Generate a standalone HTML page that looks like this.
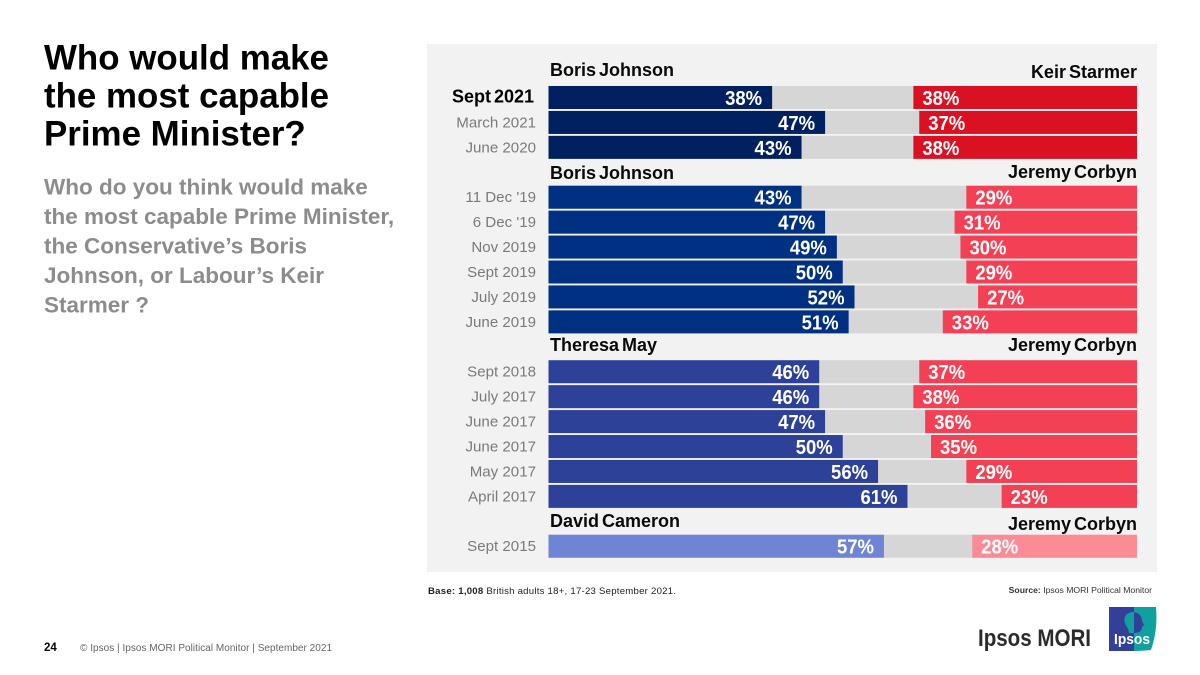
<!DOCTYPE html>
<html lang="en">
<head>
<meta charset="utf-8">
<title>Who would make the most capable Prime Minister?</title>
<style>
html,body{margin:0;padding:0;background:#fff;width:1200px;height:675px;overflow:hidden}
svg{display:block}
text{font-family:"Liberation Sans",Arial,sans-serif}
</style>
</head>
<body>
<svg id="slide" xmlns="http://www.w3.org/2000/svg" width="1200" height="675" viewBox="0 0 1200 675">
  <rect width="1200" height="675" fill="#fff"/>
  <g font-size="34.9" font-weight="700" fill="#000">
    <text x="44" y="69.5">Who would make</text>
    <text x="44" y="107.5">the most capable</text>
    <text x="44" y="145.5">Prime Minister?</text>
  </g>
  <g font-size="22.5" font-weight="700" fill="#8c8c8c">
    <text x="44" y="194.5">Who do you think would make</text>
    <text x="44" y="224">the most capable Prime Minister,</text>
    <text x="44" y="253.5">the Conservative’s Boris</text>
    <text x="44" y="283">Johnson, or Labour’s Keir</text>
    <text x="44" y="312.5">Starmer ?</text>
  </g>
  <rect x="427" y="44" width="730" height="528" fill="#f2f2f2"/>
  <g id="chart"></g>
  <text x="428" y="594" font-size="9.6" fill="#222" textLength="248"><tspan font-weight="700">Base: 1,008</tspan> British adults 18+, 17-23 September 2021.</text>
  <text x="1152" y="593" font-size="8.65" fill="#333" text-anchor="end"><tspan font-weight="700">Source:</tspan> Ipsos MORI Political Monitor</text>
  <text x="44" y="651" font-size="11.5" font-weight="700" fill="#000">24</text>
  <text x="80" y="651" font-size="10" fill="#666" textLength="252">© Ipsos | Ipsos MORI Political Monitor | September 2021</text>
  <text x="978" y="646" font-size="24" font-weight="700" fill="#2b2b2b" textLength="113" lengthAdjust="spacingAndGlyphs">Ipsos MORI</text>
  <g>
    <path d="M1109 607H1134V651H1109Z" fill="#33409a"/>
    <path d="M1134 607H1156Q1158 630 1151 650Q1142 651 1134 651Z" fill="#11a0a0"/>
    <path d="M1134 612C1126 612 1123 618 1125 623C1126 627 1129 628 1129 633H1134Z" fill="#11a0a0"/>
    <path d="M1134 612C1140 613 1142 617 1142 621L1144 625L1142 627C1142 631 1139 633 1134 633Z" fill="#33409a"/>
    <text x="1114" y="644" font-size="15" font-weight="700" fill="#fff" textLength="36" lengthAdjust="spacingAndGlyphs">Ipsos</text>
  </g>
</svg>
<script>
const categories = ["Sept 2021","March 2021","June 2020","11 Dec '19","6 Dec '19","Nov 2019","Sept 2019","July 2019","June 2019","Sept 2018","July 2017","June 2017","June 2017","May 2017","April 2017","Sept 2015"];
const leftValues = [38,47,43,43,47,49,50,52,51,46,46,47,50,56,61,57];
const rightValues = [38,37,38,29,31,30,29,27,33,37,38,36,35,29,23,28];
const groupOfRow = [0,0,0,1,1,1,1,1,1,2,2,2,2,2,2,3];
const leftLeaders = ["Boris Johnson","Boris Johnson","Theresa May","David Cameron"];
const rightLeaders = ["Keir Starmer","Jeremy Corbyn","Jeremy Corbyn","Jeremy Corbyn"];

const leftColours = ["#002060","#003082","#2e4199","#6f84d4"];
const rightColours = ["#da1023","#f44054","#f44054","#fb8c96"];
const leftHeaderBaseline = [76,179,351,527];
const rightHeaderBaseline = [78,178,351,530];

const NS = "http://www.w3.org/2000/svg";
const chart = document.getElementById("chart");
const plotLeft = 548.5, plotWidth = 588.5, plotTop = 86, pitch = 24.93, barHeight = 23;
const xScale = v => plotWidth * v / 100;
const yScale = (rowIndex, group) => plotTop + pitch * (rowIndex + group);

function make(tag, props, parent, content) {
  const el = document.createElementNS(NS, tag);
  for (const k in props) el.setAttribute(k, props[k]);
  if (content !== undefined) el.textContent = content;
  parent.appendChild(el);
  return el;
}

leftLeaders.forEach((name, g) => {
  const lh = make("text", {x: 550, y: leftHeaderBaseline[g], "font-size": 18, "font-weight": 700, fill: "#0a0a0a", "word-spacing": -2}, chart, name);
  
  
  const rh = make("text", {x: 1137, y: rightHeaderBaseline[g], "font-size": 18, "font-weight": 700, fill: "#0a0a0a", "text-anchor": "end", "word-spacing": -2}, chart, rightLeaders[g]);
  
  
});

categories.forEach((cat, i) => {
  const g = groupOfRow[i];
  const y = yScale(i, g);
  const mid = y + barHeight / 2;
  const first = i === 0;

  const label = make("text", {x: first ? 534 : 536, y: mid + 5, "text-anchor": "end", "font-size": first ? 18 : 15.1, "font-weight": first ? 700 : 400, fill: first ? "#000" : "#7a7a7a", "word-spacing": first ? -2 : 0}, chart, cat);
  
  

  const track = make("rect", {x: plotLeft, y: y, width: plotWidth, height: barHeight, fill: "#d6d6d6"}, chart);
  
  

  const lw = xScale(leftValues[i]);
  const lb = make("rect", {x: plotLeft, y: y, width: lw, height: barHeight, fill: leftColours[g]}, chart);
  
  

  const rw = xScale(rightValues[i]);
  const rb = make("rect", {x: plotLeft + plotWidth - rw, y: y, width: rw, height: barHeight, fill: rightColours[g]}, chart);
  
  

  const lt = make("text", {x: plotLeft + lw - 10, y: mid + 7.5, "text-anchor": "end", "font-size": 20, "font-weight": 700, fill: "#fff", textLength: 37, lengthAdjust: "spacingAndGlyphs"}, chart, leftValues[i] + "%");
  
  

  const rt = make("text", {x: plotLeft + plotWidth - rw + 9, y: mid + 7.5, "font-size": 20, "font-weight": 700, fill: "#fff", textLength: 37, lengthAdjust: "spacingAndGlyphs"}, chart, rightValues[i] + "%");
  
  
});
</script>
</body>
</html>
